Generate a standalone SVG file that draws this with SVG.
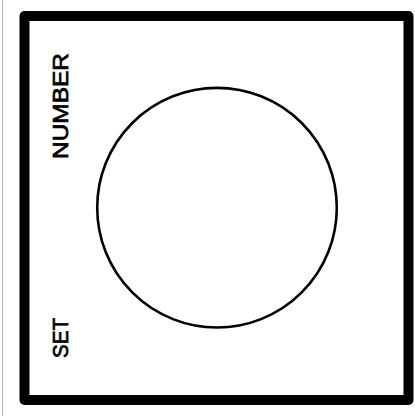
<svg xmlns="http://www.w3.org/2000/svg" width="415" height="416" viewBox="0 0 415 416">
<style>
.lbl{font-family:"Liberation Sans",Arial,sans-serif;font-size:21.5px;fill:#000;stroke:#000;stroke-width:0.7}
</style>
<rect x="0" y="0" width="415" height="416" fill="#fff"/>
<line x1="2.5" y1="0" x2="2.5" y2="416" stroke="#b0b0b0" stroke-width="1"/>
<g id="frame">
<rect x="24.5" y="16" width="384" height="384" fill="none" stroke="#000" stroke-width="10" stroke-linejoin="round"/>
</g>
<g id="dial">
<circle cx="217" cy="207.7" r="119.8" fill="none" stroke="#000" stroke-width="2.6"/>
</g>
<g id="label-number">
<text class="lbl" transform="translate(68,159) rotate(-90)" textLength="106" lengthAdjust="spacingAndGlyphs">NUMBER</text>
</g>
<g id="label-set">
<text class="lbl" transform="translate(68,358) rotate(-90)" textLength="40" lengthAdjust="spacingAndGlyphs">SET</text>
</g>
</svg>
